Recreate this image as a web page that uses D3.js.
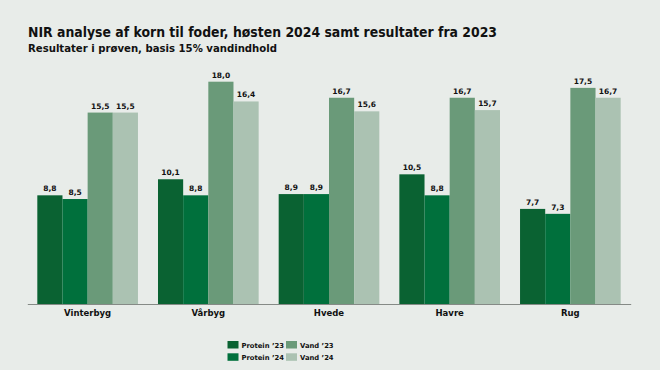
<!DOCTYPE html>
<html>
<head>
<meta charset="utf-8">
<script src="https://cdn.jsdelivr.net/npm/d3@7"></script>
<style>
  html, body { margin: 0; padding: 0; background: #e8ece9; }
  svg { display: block; font-family: "DejaVu Sans", sans-serif; }
</style>
</head>
<body>
<svg id="chart"></svg>
<script>
// data
const categories = ['Vinterbyg', 'Vårbyg', 'Hvede', 'Havre', 'Rug'];
const seriesNames = ['Protein ’23', 'Protein ’24', 'Vand ’23', 'Vand ’24'];
const protein23 = [8.8, 10.1, 8.9, 10.5, 7.7];
const protein24 = [8.5, 8.8, 8.9, 8.8, 7.3];
const vand23 = [15.5, 18.0, 16.7, 16.7, 17.5];
const vand24 = [15.5, 16.4, 15.6, 15.7, 16.7];
const colors = ['#0a6232', '#00703c', '#6a9a79', '#abc2b2'];

const series = [protein23, protein24, vand23, vand24];

const width = 660;
const height = 370;

const svg = d3.select('#chart')
  .attr('width', width)
  .attr('height', height);

svg.append('rect')
  .attr('width', width)
  .attr('height', height)
  .attr('fill', '#e8ece9');

// title
svg.append('text')
  .attr('x', 28)
  .attr('y', 37)
  .attr('font-size', 14.5)
  .attr('font-weight', 'bold')
  .attr('fill', '#111')
  .attr('textLength', 469)
  .attr('lengthAdjust', 'spacingAndGlyphs')
  .text('NIR analyse af korn til foder, høsten 2024 samt resultater fra 2023');

svg.append('text')
  .attr('x', 28)
  .attr('y', 52)
  .attr('font-size', 10.5)
  .attr('font-weight', 'bold')
  .attr('fill', '#111')
  .attr('textLength', 249)
  .attr('lengthAdjust', 'spacingAndGlyphs')
  .text('Resultater i prøven, basis 15% vandindhold');

const x0 = d3.scaleBand()
  .domain(categories)
  .range([27.3, 630.7])
  .paddingInner(0.166)
  .paddingOuter(0.083);

const x1 = d3.scaleBand()
  .domain(d3.range(series.length))
  .range([0, x0.bandwidth()]);

const y = d3.scaleLinear()
  .domain([0, 20])
  .range([304, 57]);

const groups = svg.selectAll('g.group')
  .data(categories)
  .enter()
  .append('g')
  .attr('class', 'group')
  .attr('transform', d => `translate(${x0(d)},0)`);

groups.selectAll('rect')
  .data((d, i) => series.map((s, j) => ({ j: j, v: s[i] })))
  .enter()
  .append('rect')
  .attr('x', d => x1(d.j))
  .attr('y', d => y(d.v))
  .attr('width', x1.bandwidth())
  .attr('height', d => y(0) - y(d.v))
  .attr('fill', d => colors[d.j]);

groups.selectAll('text.value')
  .data((d, i) => series.map((s, j) => ({ j: j, v: s[i] })))
  .enter()
  .append('text')
  .attr('class', 'value')
  .attr('x', d => x1(d.j) + x1.bandwidth() / 2)
  .attr('y', d => y(d.v) - 4)
  .attr('text-anchor', 'middle')
  .attr('font-size', 7.5)
  .attr('font-weight', 'bold')
  .attr('fill', '#111')
  .text(d => d.v.toFixed(1).replace('.', ','));

// x axis
const xAxis = d3.axisBottom(x0).tickSize(0).tickPadding(6);
const gx = svg.append('g')
  .attr('transform', `translate(0,${y(0)})`)
  .call(xAxis);
gx.select('.domain').attr('stroke', '#858a86').attr('stroke-width', 1);
gx.selectAll('text')
  .attr('font-size', 8.5)
  .attr('font-weight', 'bold')
  .attr('fill', '#111')
  .attr('font-family', '"DejaVu Sans", sans-serif');

// legend
const legend = svg.append('g')
  .attr('id', 'legend');

const legendPos = [[227.5, 341], [227.5, 353.3], [286, 341], [286, 353.3]];

seriesNames.forEach((name, i) => {
  const item = legend.append('g')
    .attr('transform', `translate(${legendPos[i][0]},${legendPos[i][1]})`);
  item.append('rect')
    .attr('width', 11)
    .attr('height', 7.5)
    .attr('fill', colors[i]);
  item.append('text')
    .attr('x', 14)
    .attr('y', 6.8)
    .attr('font-size', 6.8)
    .attr('font-weight', 'bold')
    .attr('fill', '#111')
    .text(name);
});
</script>
</body>
</html>
